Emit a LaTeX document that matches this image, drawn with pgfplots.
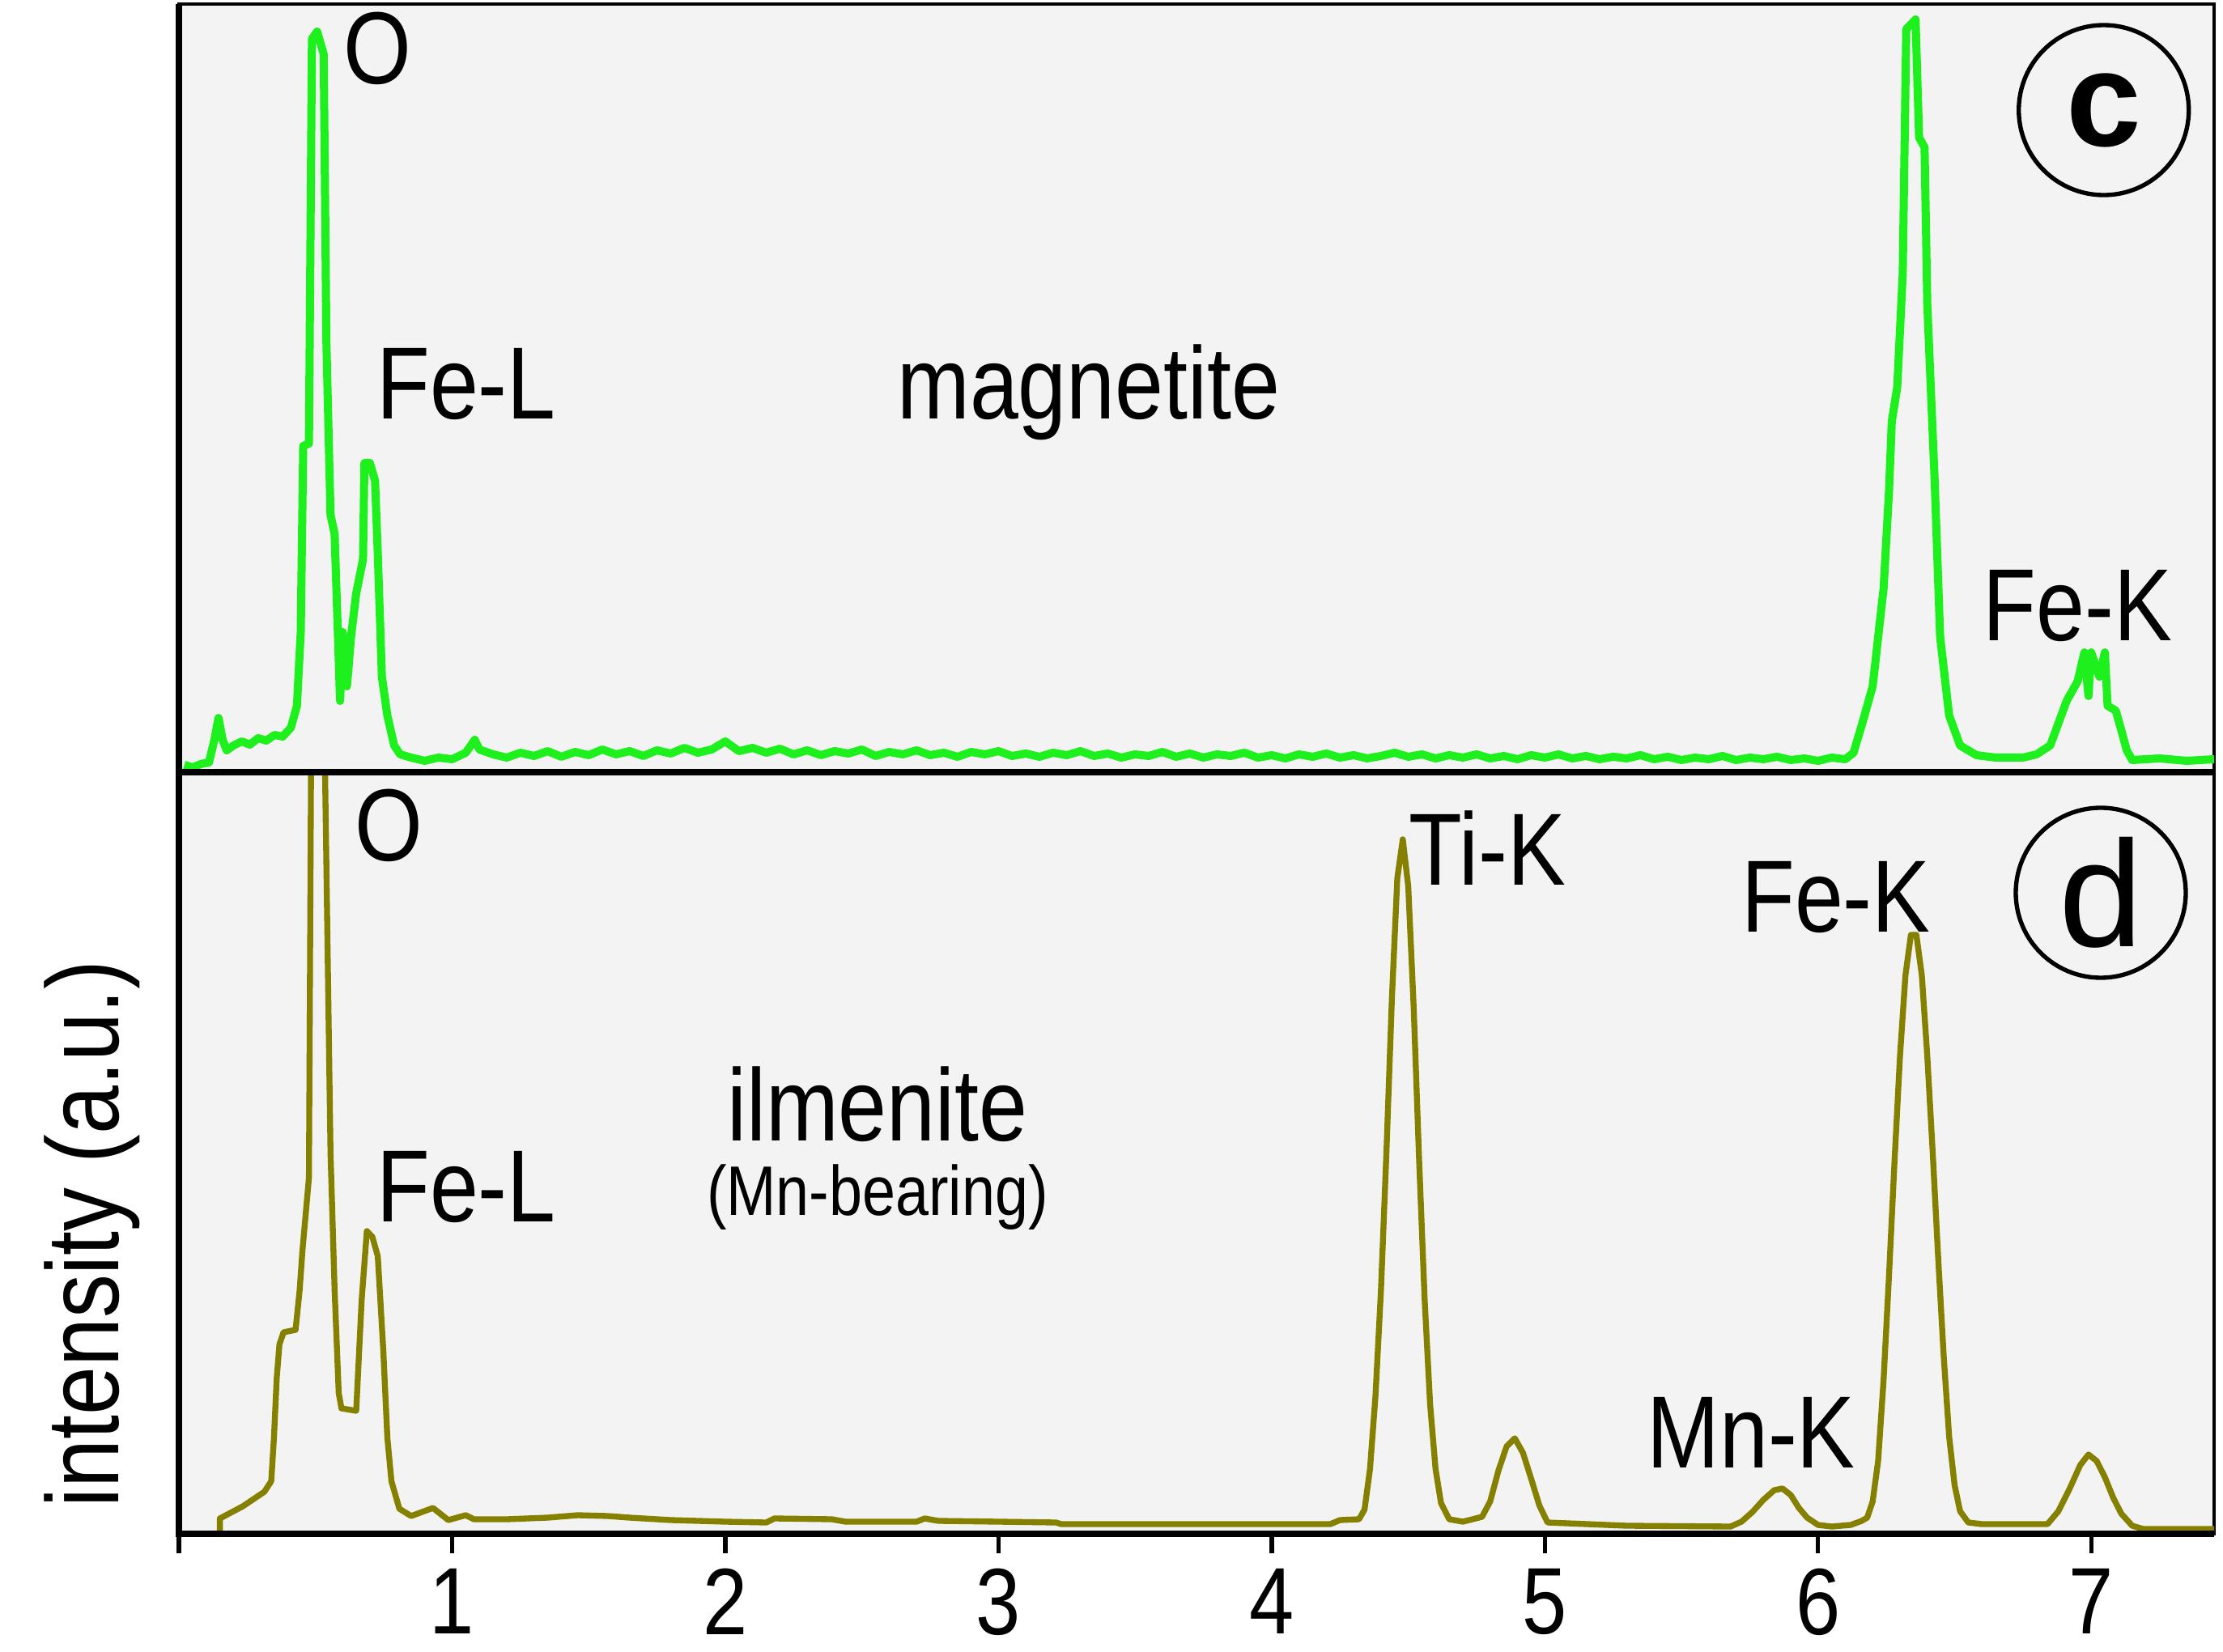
\documentclass[border=0pt]{standalone}
\usepackage{fontspec}
\setmainfont{Liberation Sans}
\newfontfamily\narrowfont{Liberation Sans}[FakeStretch=0.85]
\usepackage{pgfplots}
\pgfplotsset{compat=1.18}

\definecolor{bggray}{RGB}{243,243,243}
\definecolor{magn}{RGB}{30,240,30}
\definecolor{ilm}{RGB}{133,128,0}

\begin{document}
\begin{tikzpicture}
\pgfplotsset{
  eds/.style={
    scale only axis,
    width=377.1pt,
    xmin=0, xmax=7.45, ymin=0,
    axis background/.style={fill=bggray},
    axis line style={line width=0.6pt},
    ytick=\empty,
    clip mode=individual,
    /pgf/number format/assume math mode=true,
  },
}
\tikzset{
  lbl/.style={font=\narrowfont\fontsize{19}{21}\selectfont, inner sep=0pt, anchor=base west},
  circ/.style={circle, draw, line width=0.8pt, minimum size=31.5pt, inner sep=0pt},
}

% (c) magnetite
\begin{axis}[eds, name=top, height=142.35pt, ymax=949, xtick=\empty]
\addplot[magn, line width=1.5pt, line join=round] coordinates {
(0.02,9) (0.05,6) (0.08,10) (0.11,12) (0.13,40) (0.145,67) (0.16,40) (0.175,27)
(0.2,33) (0.23,38) (0.26,34) (0.29,42) (0.32,39) (0.35,46) (0.38,44) (0.41,55)
(0.432,82) (0.446,173) (0.455,403) (0.476,406) (0.487,906) (0.506,915) (0.53,887)
(0.54,530) (0.555,318) (0.57,294) (0.59,88) (0.60,173) (0.615,106) (0.63,167)
(0.649,221) (0.674,263) (0.679,382) (0.699,382) (0.718,360) (0.728,270) (0.743,118)
(0.763,70) (0.788,33) (0.81,22) (0.85,18) (0.9,14) (0.95,18) (1.0,16) (1.05,24)
(1.083,40) (1.1,28) (1.15,22) (1.2,18) (1.25,24) (1.3,20) (1.35,26) (1.4,19)
(1.45,25) (1.5,21) (1.55,28) (1.6,22) (1.65,26) (1.7,20) (1.75,27) (1.8,23)
(1.85,30) (1.9,24) (1.95,28) (2.0,38) (2.05,26) (2.1,30) (2.15,24) (2.2,29)
(2.25,22) (2.3,27) (2.35,21) (2.4,26) (2.45,23) (2.5,28) (2.55,20) (2.6,25)
(2.65,22) (2.7,27) (2.75,21) (2.8,24) (2.85,19) (2.9,25) (2.95,22) (3.0,26)
(3.05,20) (3.1,23) (3.15,19) (3.2,24) (3.25,21) (3.3,26) (3.35,20) (3.4,23)
(3.45,18) (3.5,22) (3.55,20) (3.6,25) (3.65,19) (3.7,23) (3.75,18) (3.8,22)
(3.85,20) (3.9,24) (3.95,18) (4.0,21) (4.05,17) (4.1,22) (4.15,19) (4.2,23)
(4.25,18) (4.3,21) (4.35,17) (4.4,20) (4.45,24) (4.5,19) (4.55,22) (4.6,17)
(4.65,21) (4.7,18) (4.75,22) (4.8,17) (4.85,20) (4.9,16) (4.95,21) (5.0,18)
(5.05,22) (5.1,17) (5.15,20) (5.2,16) (5.25,19) (5.3,17) (5.35,21) (5.4,16)
(5.45,19) (5.5,15) (5.55,18) (5.6,16) (5.65,20) (5.7,15) (5.75,18) (5.8,16)
(5.85,19) (5.9,15) (5.95,17) (6.0,14) (6.05,18) (6.1,16) (6.13,24)
(6.16,58) (6.20,106) (6.24,227) (6.26,348) (6.27,433) (6.29,476) (6.31,615)
(6.323,918) (6.357,930) (6.37,784) (6.39,772) (6.40,578) (6.427,360) (6.447,167)
(6.48,70) (6.52,33) (6.58,21) (6.65,18) (6.75,18) (6.8,22) (6.85,33) (6.91,88)
(6.95,112) (6.975,148) (6.99,94) (7.00,148) (7.03,118) (7.05,148) (7.06,82)
(7.09,76) (7.11,52) (7.13,27) (7.15,15) (7.25,17) (7.35,14) (7.45,16)
};
\draw[line width=1.2pt] (rel axis cs:0,0) -- (rel axis cs:0,1);
\node[lbl] at (axis cs:0.60,851) {O};
\node[lbl] at (axis cs:0.72,436) {Fe-L};
\node[lbl, anchor=base] at (axis cs:3.33,436) {magnetite};
\node[lbl] at (axis cs:6.60,162) {Fe-K};
\node[circ, font=\fontsize{25}{27}\bfseries] at (axis cs:7.046,818) {c};
\end{axis}

% (d) ilmenite
\begin{axis}[eds, at={(top.south west)}, anchor=north west,
  height=141.15pt, ymax=941,
  xtick={0,1,2,3,4,5,6,7}, xticklabels={,1,2,3,4,5,6,7},
  xtick pos=bottom, xtick align=outside,
  major tick length=3.6pt,
  every tick/.style={black, line width=0.8pt},
  xticklabel style={font=\narrowfont\fontsize{17.5}{19}\selectfont, inner sep=0pt, yshift=-2.7pt},
]
\addplot[ilm, line width=1.1pt, line join=round] coordinates {
(0.150,0) (0.150,19) (0.234,34) (0.313,52) (0.338,65) (0.348,119) (0.358,192)
(0.368,234) (0.383,249) (0.427,252) (0.442,301) (0.452,349) (0.476,440)
(0.486,1100) (0.505,1500) (0.53,1100) (0.535,940) (0.555,470) (0.570,301)
(0.585,174) (0.595,155) (0.649,152) (0.669,289) (0.688,374) (0.708,367)
(0.728,343) (0.748,228) (0.763,119) (0.778,65) (0.807,31) (0.85,22) (0.93,32)
(0.986,17) (1.05,23) (1.08,18) (1.2,18) (1.35,20) (1.46,23) (1.57,22) (1.65,20)
(1.8,17) (2.0,15) (2.15,14) (2.18,19) (2.39,18) (2.44,15) (2.70,15) (2.73,19)
(2.78,16) (3.0,15) (3.21,14) (3.23,12) (3.5,12) (4.0,12) (4.215,12) (4.25,17)
(4.32,18) (4.34,30) (4.36,80) (4.38,170) (4.40,300) (4.42,470) (4.44,660)
(4.46,810) (4.48,858) (4.50,800) (4.52,650) (4.54,460) (4.56,290) (4.58,160)
(4.60,80) (4.62,38) (4.65,18) (4.70,15) (4.77,21) (4.80,40) (4.83,78) (4.86,108)
(4.89,118) (4.92,100) (4.95,68) (4.98,35) (5.01,14) (5.3,10) (5.68,9) (5.72,15)
(5.76,27) (5.80,42) (5.84,54) (5.87,56) (5.90,48) (5.93,32) (5.96,20) (6.00,11)
(6.05,9) (6.12,11) (6.16,16) (6.18,20) (6.20,40) (6.22,90) (6.24,190) (6.26,320)
(6.28,460) (6.30,590) (6.32,690) (6.34,740) (6.36,740) (6.38,690) (6.40,590)
(6.42,470) (6.44,340) (6.46,220) (6.48,120) (6.50,60) (6.52,28) (6.55,14)
(6.60,12) (6.84,12) (6.88,28) (6.92,55) (6.96,85) (6.99,98) (7.02,90) (7.05,70)
(7.08,45) (7.11,25) (7.15,10) (7.19,6) (7.45,6)
};
\draw[line width=1.3pt] (rel axis cs:0,1) -- (rel axis cs:0,0) -- (rel axis cs:1,0);
\draw[line width=1.3pt] (rel axis cs:0,1) -- (rel axis cs:1,1);
\node[lbl] at (axis cs:0.64,831) {O};
\node[lbl] at (axis cs:0.72,386) {Fe-L};
\node[lbl, anchor=base] at (axis cs:2.557,485) {ilmenite};
\node[anchor=base, inner sep=0pt, font=\narrowfont\fontsize{13}{15}\selectfont] at (axis cs:2.557,393) {(Mn-bearing)};
\node[lbl] at (axis cs:4.50,801) {Ti-K};
\node[lbl] at (axis cs:5.716,743) {Fe-K};
\node[lbl] at (axis cs:5.37,82) {Mn-K};
\node[circ, font=\fontsize{28}{30}\selectfont] at (axis cs:7.035,792) {d};
\node[rotate=90, inner sep=0pt, font=\narrowfont\fontsize{19}{21}\selectfont] at (rel axis cs:-0.0426,0.394) {intensity (a.u.)};
\end{axis}

\pgfresetboundingbox
\path ([shift={(-33.15pt,0.75pt)}]top.north west) rectangle ([shift={(378.75pt,-305.25pt)}]top.north west);
\end{tikzpicture}
\end{document}
